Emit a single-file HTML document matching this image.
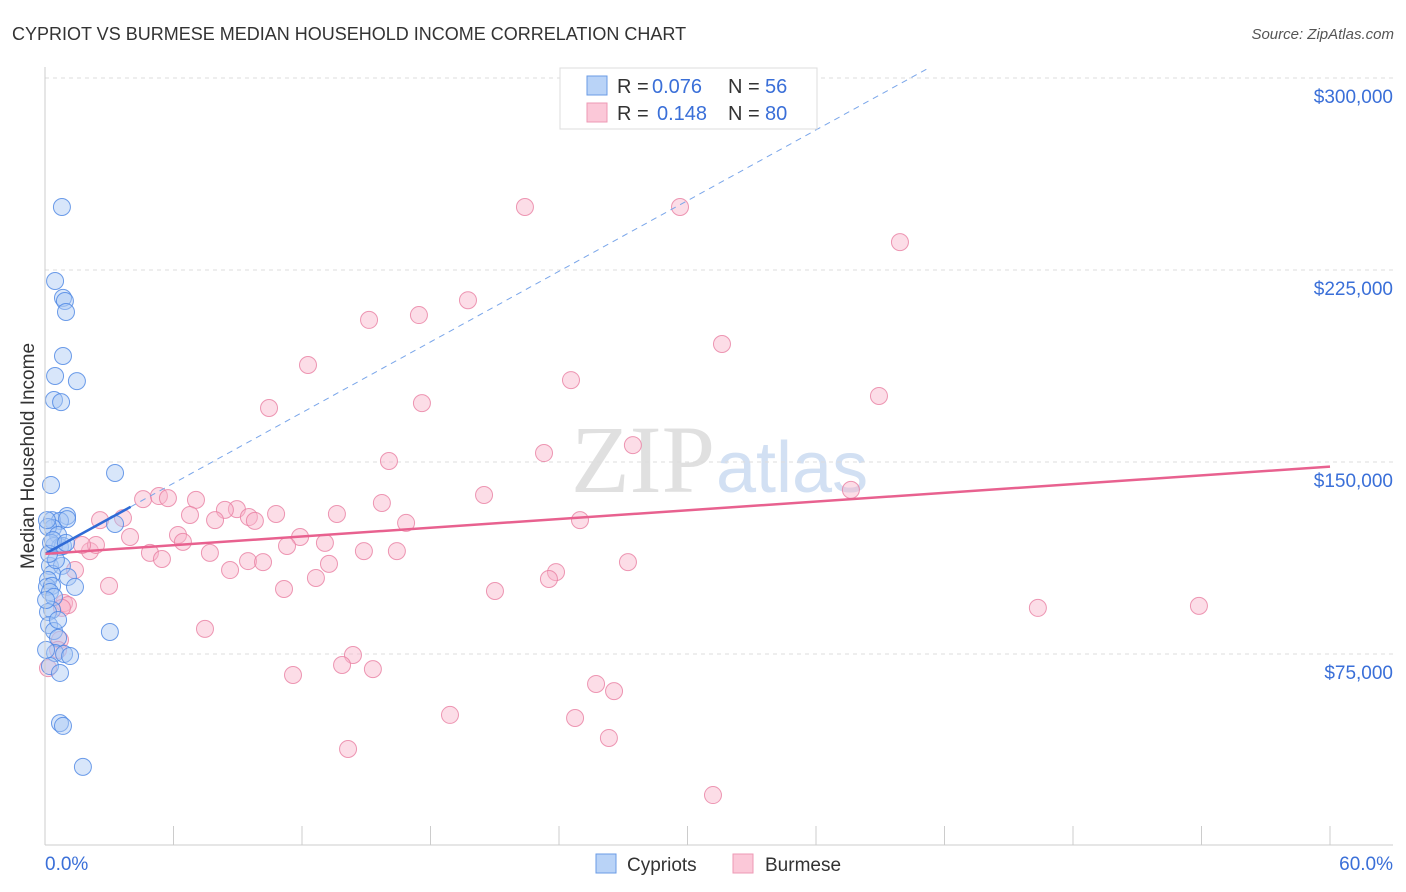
<!DOCTYPE html>
<html><head><meta charset="utf-8"><style>
body{margin:0;background:#fff;font-family:"Liberation Sans",sans-serif;}
#wrap{position:relative;width:1406px;height:892px;overflow:hidden;}
</style></head><body>
<div id="wrap">
<svg id="svg" width="1406" height="892" xmlns="http://www.w3.org/2000/svg">
<text x="12" y="40" font-size="18" fill="#333">CYPRIOT VS BURMESE MEDIAN HOUSEHOLD INCOME CORRELATION CHART</text>
<text x="1394" y="39" font-size="15" fill="#555" font-style="italic" text-anchor="end">Source: ZipAtlas.com</text>
<text x="715" y="492" font-size="96" fill="#e0e0e0" text-anchor="end" font-family="Liberation Serif">ZIP</text>
<text x="716" y="492" font-size="72" fill="#d2e0f3">atlas</text>
<text transform="translate(34,456) rotate(-90)" font-size="19" fill="#333" text-anchor="middle">Median Household Income</text>
<g id="grid"></g><g id="marks"></g>
<line x1="45" y1="67" x2="45" y2="845" stroke="#ccc"/>
<line x1="45" y1="845" x2="1393" y2="845" stroke="#ccc"/>
<text x="45" y="870" font-size="19" fill="#3a6fd8">0.0%</text>
<text x="1393" y="870" font-size="19" fill="#3a6fd8" text-anchor="end">60.0%</text>
<g>
<rect x="560" y="68" width="257" height="61" fill="#fff" stroke="#ddd"/>
<rect x="587" y="76" width="20" height="19" fill="#b9d3f7" stroke="#6a9be6"/>
<rect x="587" y="103" width="20" height="19" fill="#fbc8d8" stroke="#ee99b4"/>
<text x="617" y="93" font-size="20" fill="#333">R =</text>
<text x="652" y="93" font-size="20" fill="#3a6fd8">0.076</text>
<text x="728" y="93" font-size="20" fill="#333">N =</text>
<text x="765" y="93" font-size="20" fill="#3a6fd8">56</text>
<text x="617" y="120" font-size="20" fill="#333">R =</text>
<text x="657" y="120" font-size="20" fill="#3a6fd8">0.148</text>
<text x="728" y="120" font-size="20" fill="#333">N =</text>
<text x="765" y="120" font-size="20" fill="#3a6fd8">80</text>
</g>
<g>
<rect x="596" y="854" width="20" height="19" fill="#b9d3f7" stroke="#6a9be6"/>
<text x="627" y="871" font-size="19" fill="#333">Cypriots</text>
<rect x="733" y="854" width="20" height="19" fill="#fbc8d8" stroke="#ee99b4"/>
<text x="765" y="871" font-size="19" fill="#333">Burmese</text>
</g>
</svg></div>
<script>
const yTicks=[75000,150000,225000,300000];
const yTickLabels=["$75,000","$150,000","$225,000","$300,000"];
const xTicks=[0,6,12,18,24,30,36,42,48,54,60];
const cypX=[0.79,0.47,0.84,0.93,0.98,0.84,0.47,1.49,0.42,0.75,3.27,0.28,1.03,0.33,0.70,1.03,0.37,0.14,0.61,0.42,0.70,0.84,0.28,3.27,0.23,0.79,0.33,1.07,0.14,0.09,0.33,1.40,0.23,0.42,0.33,0.14,0.19,0.42,3.03,0.61,0.47,0.89,1.17,0.23,0.70,0.70,0.84,1.77,0.05,0.05,0.51,0.19,0.37,0.98,0.09,0.61];
const cypY=[249.6,220.7,214.1,212.9,208.6,191.4,183.6,181.6,174.2,173.4,145.7,141.0,128.9,127.3,127.0,127.7,124.2,124.6,121.5,117.2,116.8,117.2,118.4,125.8,109.4,109.4,106.3,105.1,103.9,101.2,101.6,101.2,99.2,97.3,92.2,91.4,86.3,84.0,83.6,81.3,75.4,75.0,74.2,70.3,67.6,48.0,46.9,30.9,96.1,76.6,111.7,114.1,119.5,118.4,127.3,88.3];
const burX=[22.41,29.65,39.92,19.75,17.46,15.13,12.28,31.61,24.56,38.94,17.60,10.46,27.45,23.30,16.06,37.63,20.50,4.58,5.32,5.74,7.05,8.96,8.40,9.52,9.80,10.79,13.63,15.73,16.86,24.98,2.57,3.64,3.97,6.77,7.94,6.21,6.44,11.91,11.30,13.07,9.48,10.18,7.70,4.90,5.46,2.10,2.38,1.73,14.89,16.43,8.64,12.65,13.26,23.86,23.53,27.22,2.99,1.40,11.16,21.01,46.36,53.88,0.89,1.07,0.79,7.47,0.70,0.61,14.38,13.87,15.31,0.14,11.58,25.73,26.57,18.91,24.75,14.15,26.33,31.19];
const burY=[249.6,249.6,235.9,213.2,207.4,205.5,187.9,196.1,182.0,175.8,173.0,171.1,156.6,153.5,150.4,139.1,137.1,135.5,136.7,135.9,135.2,131.6,131.3,128.5,127.0,129.7,129.7,134.0,126.2,127.3,127.3,128.1,120.7,129.3,127.3,121.5,118.8,120.7,117.2,118.4,111.3,110.9,114.5,114.5,112.1,115.2,117.6,117.6,115.2,115.2,107.8,104.7,110.2,107.0,104.3,110.9,101.6,107.8,100.4,99.6,93.0,93.8,94.9,94.1,93.0,84.8,80.5,76.6,74.6,70.7,69.1,69.5,66.8,63.3,60.5,51.2,50.0,37.9,42.2,19.9];
const cypTrend=[114.1,4.6];
const burTrend=[114.1,0.568];
const NS="http://www.w3.org/2000/svg";
function X(p){return 45+p*(1285/60);}
function Y(v){return 654-(v-75000)*192/75000;}
function mk(t,a,p){const e=document.createElementNS(NS,t);for(const k in a)e.setAttribute(k,a[k]);p.appendChild(e);return e;}
const grid=document.getElementById('grid'),marks=document.getElementById('marks');
yTicks.forEach((v,i)=>{
 const l=mk('line',{x1:45,x2:1393,y1:Y(v),y2:Y(v),stroke:'#ddd','stroke-dasharray':'4,4'},grid);
 
 
 const t=mk('text',{x:1393,y:Y(v)+25,'font-size':19,fill:'#3a6fd8','text-anchor':'end'},grid);
 t.textContent=yTickLabels[i];
 
 
});
xTicks.forEach(p=>{
 const l=mk('line',{x1:X(p),x2:X(p),y1:826,y2:845,stroke:'#ccc'},grid);
 
 
});
function pts(xs,ys,fill,stroke,name){
 xs.forEach((x,i)=>{
  const c=mk('circle',{cx:X(x),cy:Y(ys[i]*1000),r:8.5,fill:fill,'fill-opacity':0.45,stroke:stroke,'stroke-opacity':0.8,'stroke-width':1},marks);
  
  
 });
}
pts(burX,burY,'#f8b4c9','#e87ea1','burmese-point');
pts(cypX,cypY,'#a9c8f3','#4a85e3','cypriot-point');
function ty(tr,p){return Y((tr[0]+tr[1]*p)*1000);}
let l=mk('line',{x1:X(4),y1:ty(cypTrend,4),x2:X(41.2),y2:ty(cypTrend,41.2),stroke:'#7aa6ea','stroke-dasharray':'6,5','stroke-width':1},marks);


l=mk('line',{x1:X(0),y1:ty(cypTrend,0),x2:X(4),y2:ty(cypTrend,4),stroke:'#2f6bd6','stroke-width':2.5},marks);


l=mk('line',{x1:X(0),y1:ty(burTrend,0),x2:X(60),y2:ty(burTrend,60),stroke:'#e8618f','stroke-width':2.5},marks);


</script>
</body></html>
